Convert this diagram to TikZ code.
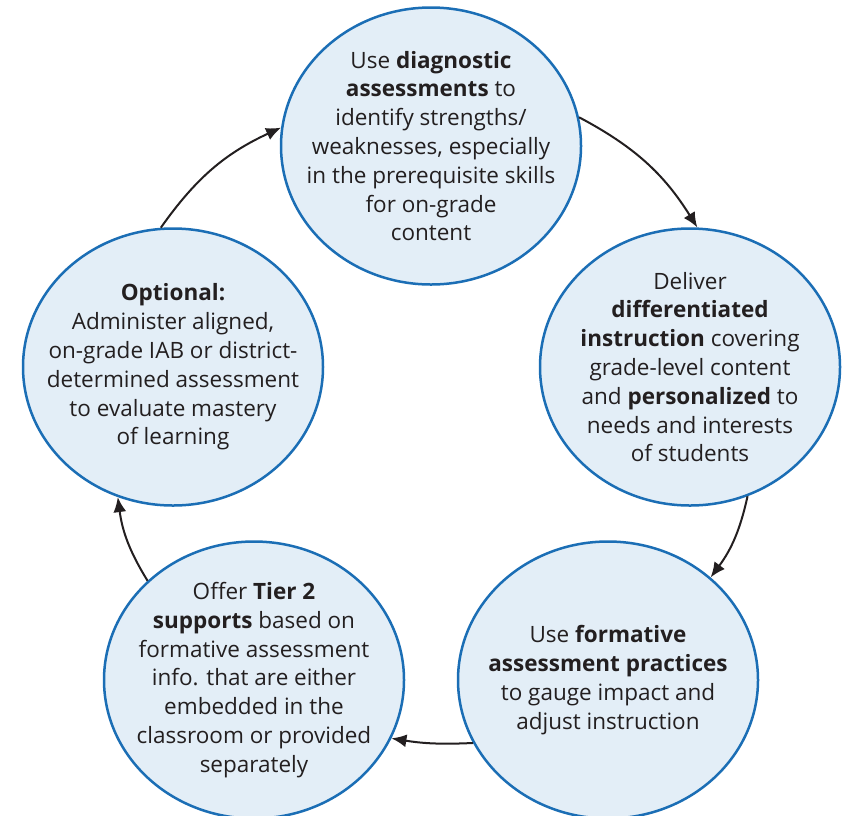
\documentclass[tikz,border=0pt]{standalone}
\usepackage{fontspec}
\setmainfont{Open Sans}
\usepackage{tikz}
\usetikzlibrary{shapes.geometric,arrows.meta}

\definecolor{ringblue}{HTML}{1B6EB5}
\definecolor{ringfill}{HTML}{E3EEF7}
\definecolor{inkdark}{HTML}{231F20}

\begin{document}
\begin{tikzpicture}[x=1pt,y=-1pt,
  stage/.style={ellipse,draw=ringblue,fill=ringfill,line width=2.5pt,
    minimum width=300pt,minimum height=277pt,inner sep=0pt},
  stagetext/.style={align=center,text=inkdark,font=\fontsize{22.5}{28.8}\selectfont},
  cycle/.style={-{Latex[length=15pt,width=13pt]},line width=2pt,draw=inkdark}]
\useasboundingbox (0,0) rectangle (842,815);
% the five stages
\node[stage,label={[stagetext]center:Use \textbf{diagnostic}\\\textbf{assessments} to\\identify strengths/\\weaknesses, especially\\in the prerequisite skills\\for on-grade\\content}] (diag) at (431,146) {};
\node[stage,label={[stagetext]center:Deliver\\\textbf{differentiated}\\\textbf{instruction} covering\\grade-level content\\and \textbf{personalized} to\\needs and interests\\of students}] (deliver) at (690,367) {};
\node[stage,label={[stagetext]center:Use \textbf{formative}\\\textbf{assessment practices}\\to gauge impact and\\adjust instruction}] (formative) at (608,680) {};
\node[stage,label={[stagetext]center:Offer \textbf{Tier 2}\\\textbf{supports} based on\\formative assessment\\info. that are either\\embedded in the\\classroom or provided\\separately}] (tier) at (254,680) {};
\node[stage,label={[stagetext]center:\textbf{Optional:}\\Administer aligned,\\on-grade IAB or district-\\determined assessment\\to evaluate mastery\\of learning}] (optional) at (173,367) {};
% arrows round the cycle
\draw[cycle] (diag.11) to[bend left=15] (deliver.87);
\draw[cycle] (deliver.-66) to[bend left=12] (formative.45);
\draw[cycle] (formative.205) to[bend left=6] (tier.-23);
\draw[cycle] (tier.137) to[bend left=12] (optional.247);
\draw[cycle] (optional.95) to[bend left=15] (diag.173);
\end{tikzpicture}
\end{document}
